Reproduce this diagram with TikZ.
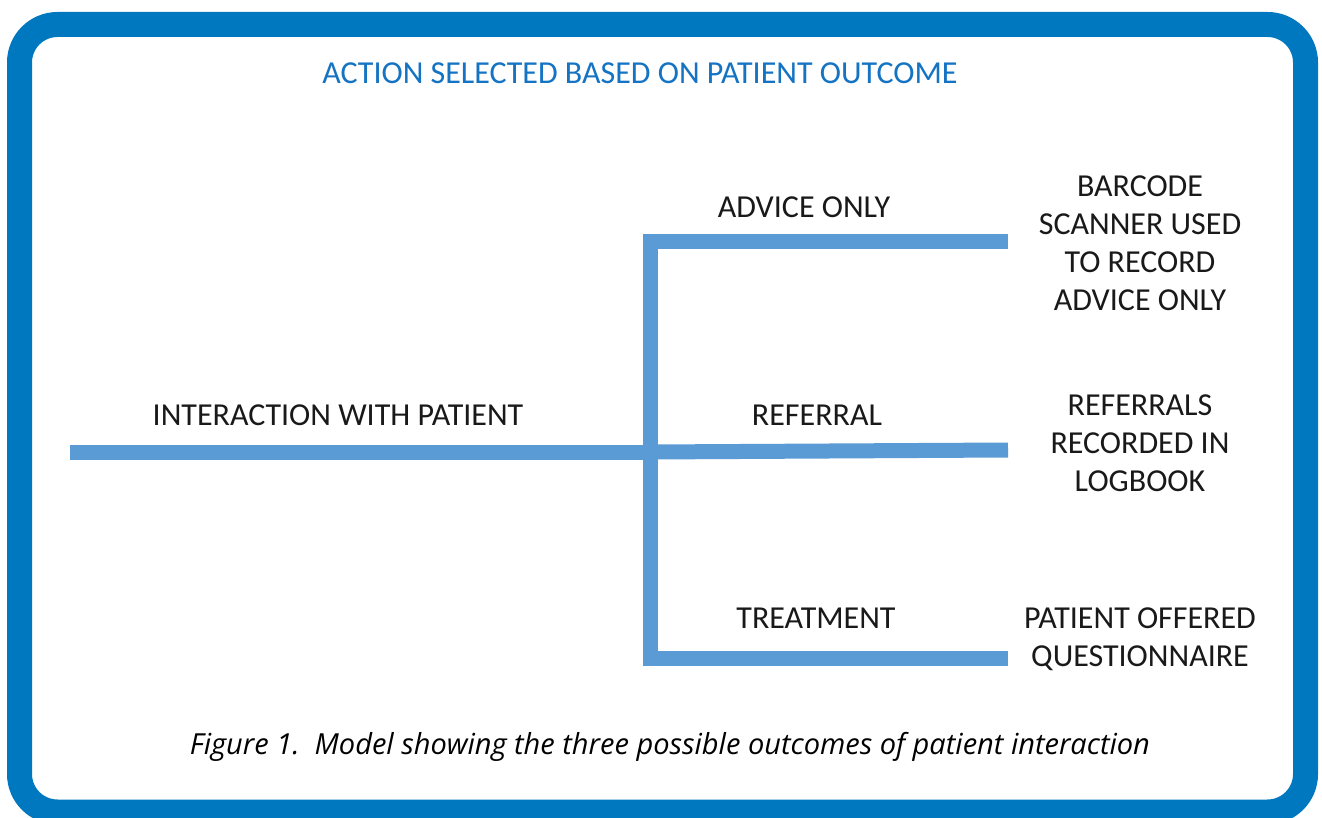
\documentclass[tikz,border=0pt]{standalone}
\usepackage{fontspec}
\setmainfont{Carlito}
\newfontfamily\capfont{Open Sans}
\definecolor{frameblue}{RGB}{0,120,192}
\definecolor{lineblue}{RGB}{91,155,213}
\definecolor{titleblue}{RGB}{20,115,195}
\definecolor{txt}{RGB}{25,25,25}
\begin{document}
\begin{tikzpicture}[x=1pt,y=-1pt,
  lbl/.style={font=\fontsize{32}{38}\selectfont, text=txt, inner sep=0pt, align=center},
  branch/.style={draw=lineblue, line width=15pt, line cap=butt, line join=miter}]
\useasboundingbox (0,0) rectangle (1322,818);
\fill[white] (0,0) rectangle (1322,818);
\draw[frameblue, line width=25pt, rounded corners=38pt] (19.5,24.5) rectangle (1305.5,812);
% coordinates
\coordinate (start) at (70,452);
\coordinate (hub) at (650,452);
\coordinate (top) at (650,242);
\coordinate (bot) at (650,658);
\coordinate (topEnd) at (1008,242);
\coordinate (midEnd) at (1008,450);
\coordinate (botEnd) at (1008,658);
\draw[branch] (start) -- (hub);
\draw[branch] (topEnd) -- (top) -- (bot) -- (botEnd);
\draw[branch] (hub) -- (midEnd);
% texts
\node[lbl, text=titleblue] (title) at (640,73) {ACTION SELECTED BASED ON PATIENT OUTCOME};
\node[lbl] (inter) at (338,415) {INTERACTION WITH PATIENT};
\node[lbl] (advice) at (804,207) {ADVICE ONLY};
\node[lbl] (referral) at (817,415) {REFERRAL};
\node[lbl] (treat) at (816,618) {TREATMENT};
\node[lbl] (barcode) at (1140,243) {BARCODE\\SCANNER USED\\TO RECORD\\ADVICE ONLY};
\node[lbl] (logbook) at (1140,443) {REFERRALS\\RECORDED IN\\LOGBOOK};
\node[lbl] (quest) at (1140,639) {PATIENT OFFERED\\QUESTIONNAIRE};
\node[font=\capfont\itshape\fontsize{29}{34}\selectfont, text=black, inner sep=0pt] (caption) at (670,747) {Figure 1.\ \ Model showing the three possible outcomes of patient interaction};
\end{tikzpicture}
\end{document}
